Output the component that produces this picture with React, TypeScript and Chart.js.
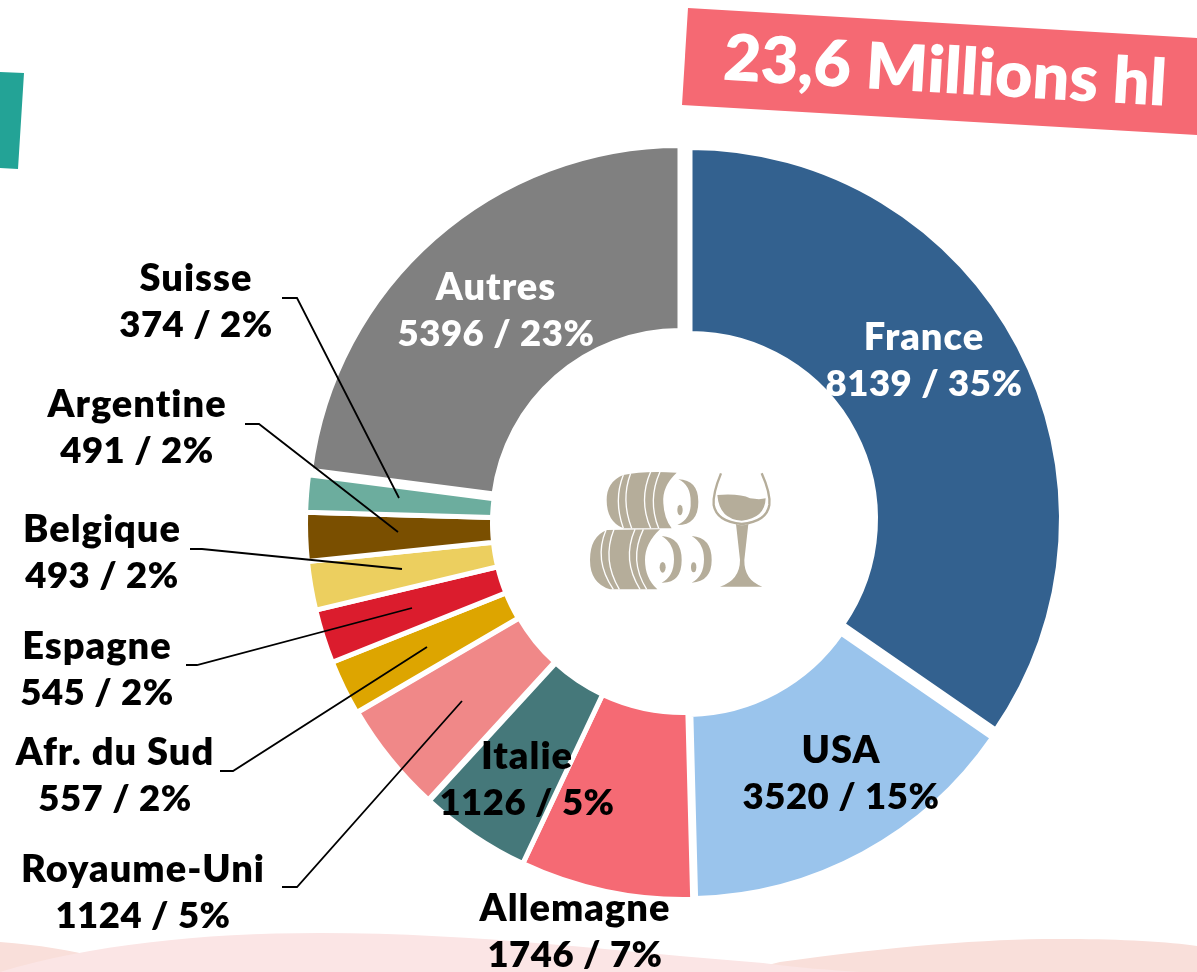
import React, { useEffect, useRef } from "react";
import { Chart, registerables } from "chart.js";

Chart.register(...registerables);

const categories = ["France", "USA", "Allemagne", "Italie", "Royaume-Uni", "Afr. du Sud", "Espagne", "Belgique", "Argentine", "Suisse", "Autres"];
const volumes = [8139, 3520, 1746, 1126, 1124, 557, 545, 493, 491, 374, 5396];
const shares = [35, 15, 7, 5, 5, 2, 2, 2, 2, 2, 23];
const sliceColors = ["#33618F", "#9AC4EC", "#F56A74", "#45787A", "#F08888", "#DDA500", "#DB1C2D", "#ECCF5F", "#7A4F00", "#6CAD9E", "#808080"];
const nudgeX = [9, 5, 2, 2, 1, 0, 0, 0, 0, 0, -1];
const nudgeY = [-4, 3, 1, 1, 0, 0, 0, 0, 0, 0, -5];
const outerTrim = [4, 3, 0, 0, 0, 0, 0, 0, 0, 0, 3];
const innerTrim = [3, 0, 0, 0, 0, 0, 0, 0, 0, 0, 1];
const labelX = [924, 841, 575, 527, 143, 115, 97, 102, 137, 196, 496];
const labelY = [338, 751, 909, 757, 870, 753, 647, 530, 405, 279, 288];
const labelColors = ["#FFFFFF", "#000000", "#000000", "#000000", "#000000", "#000000", "#000000", "#000000", "#000000", "#000000", "#FFFFFF"];
const leaders: (number[][] | null)[] = [
  null, null, null, null,
  [[282, 887], [297, 887], [462, 701]],
  [[220, 771], [233, 771], [427, 647]],
  [[186, 665], [197, 665], [412, 608]],
  [[190, 549], [202, 549], [402, 569]],
  [[245, 424], [259, 424], [398, 532]],
  [[282, 298], [297, 298], [399, 498]],
  null,
];
const bannerText = "23,6 Millions hl";
const FONT = "Lato, sans-serif";

function drawBackground(ctx: CanvasRenderingContext2D) {
  ctx.save();
  ctx.fillStyle = "#F9DFDA";
  ctx.beginPath();
  ctx.moveTo(0, 942);
  ctx.bezierCurveTo(40, 945, 70, 950, 100, 958);
  ctx.lineTo(740, 972);
  ctx.lineTo(780, 962);
  ctx.bezierCurveTo(900, 945, 1000, 938, 1070, 939);
  ctx.bezierCurveTo(1120, 939, 1170, 942, 1197, 946);
  ctx.lineTo(1197, 972);
  ctx.lineTo(0, 972);
  ctx.closePath();
  ctx.fill();
  ctx.fillStyle = "#FBE5E5";
  ctx.beginPath();
  ctx.moveTo(0, 972);
  ctx.bezierCurveTo(90, 945, 200, 933, 320, 933);
  ctx.bezierCurveTo(480, 933, 620, 952, 763, 963);
  ctx.bezierCurveTo(800, 968, 830, 970, 860, 972);
  ctx.closePath();
  ctx.fill();
  ctx.fillStyle = "#23A396";
  ctx.beginPath();
  ctx.moveTo(0, 72);
  ctx.lineTo(24, 73);
  ctx.lineTo(18, 169);
  ctx.lineTo(0, 168);
  ctx.closePath();
  ctx.fill();
  ctx.fillStyle = "#F56973";
  ctx.beginPath();
  ctx.moveTo(688, 8);
  ctx.lineTo(1197, 38);
  ctx.lineTo(1197, 135);
  ctx.lineTo(682, 105);
  ctx.closePath();
  ctx.fill();
  ctx.restore();
}

function drawIcon(ctx: CanvasRenderingContext2D) {
  ctx.save();
  ctx.translate(560, 450);
  ctx.scale(1 / 3, 1 / 3);
  const c = "#B5AD9A";
  ctx.fillStyle = c;
  const fill = (d: string) => ctx.fill(new Path2D(d));
  fill("M190,75 Q250,62 350,68 Q305,110 310,160 Q312,205 335,235 L190,235 Q140,215 140,150 Q140,95 190,75 Z");
  fill("M140,240 L300,238 Q255,280 255,330 Q255,385 292,418 L150,418 Q90,400 90,330 Q90,260 140,240 Z");
  fill("M355,88 Q415,90 415,155 Q415,225 352,225 Q395,205 392,155 Q392,105 355,88 Z");
  fill("M305,258 Q365,262 365,330 Q365,400 305,398 Q342,380 342,328 Q342,280 305,258 Z");
  fill("M395,258 Q455,262 455,330 Q455,395 395,398 Q432,380 432,328 Q432,280 395,258 Z");
  [[360, 180, 8, 16], [308, 352, 9, 16], [401, 352, 8, 15]].forEach(([x, y, rx, ry]) => {
    ctx.beginPath();
    ctx.ellipse(x, y, rx, ry, 0, 0, Math.PI * 2);
    ctx.fill();
  });
  ctx.strokeStyle = "#FFFFFF";
  ctx.lineWidth = 4;
  ["M190,75 Q160,150 190,235", "M212,70 Q182,150 215,235", "M272,65 Q235,150 272,235", "M300,65 Q262,150 296,235",
   "M138,240 Q100,330 160,418", "M162,238 Q125,330 178,418", "M225,238 Q185,330 240,418", "M250,238 Q205,330 260,418"].forEach((d) => ctx.stroke(new Path2D(d)));
  ctx.strokeStyle = c;
  ctx.lineWidth = 7;
  ctx.stroke(new Path2D("M483,70 Q458,130 461,165 Q470,215 545,222 Q620,215 628,165 Q632,130 605,70"));
  fill("M472,135 Q540,130 570,145 Q600,150 617,145 Q615,205 545,212 Q478,208 472,135 Z");
  fill("M528,222 Q545,230 565,222 L553,330 Q552,390 607,410 L480,410 Q540,390 540,330 Z");
  ctx.restore();
}

function drawLabels(ctx: CanvasRenderingContext2D) {
  ctx.save();
  ctx.strokeStyle = "#000000";
  ctx.lineWidth = 1.8;
  leaders.forEach((pts) => {
    if (!pts) return;
    ctx.beginPath();
    pts.forEach((p, i) => (i ? ctx.lineTo(p[0], p[1]) : ctx.moveTo(p[0], p[1])));
    ctx.stroke();
  });
  ctx.textAlign = "center";
  ctx.textBaseline = "middle";
  categories.forEach((name, i) => {
    ctx.fillStyle = labelColors[i];
    ctx.font = `800 38px ${FONT}`;
    (ctx as any).letterSpacing = "1px";
    ctx.fillText(name, labelX[i], labelY[i]);
    ctx.font = `800 36.5px ${FONT}`;
    (ctx as any).letterSpacing = "0.5px";
    ctx.fillText(`${volumes[i]} / ${shares[i]}%`, labelX[i], labelY[i] + 46);
  });
  (ctx as any).letterSpacing = "0px";
  ctx.translate(945, 72);
  ctx.rotate((3.35 * Math.PI) / 180);
  ctx.fillStyle = "#FFFFFF";
  ctx.font = `800 64.5px ${FONT}`;
  ctx.fillText(bannerText, 0, 0);
  ctx.restore();
}

const decorations = {
  id: "decorations",
  beforeDraw(chart: any) {
    drawBackground(chart.ctx);
  },
  afterDatasetsUpdate(chart: any) {
    chart.getDatasetMeta(0).data.forEach((arc: any, i: number) => {
      arc.x += nudgeX[i];
      arc.y += nudgeY[i];
      arc.outerRadius -= outerTrim[i];
      arc.innerRadius -= innerTrim[i];
    });
  },
  afterDraw(chart: any) {
    drawIcon(chart.ctx);
    drawLabels(chart.ctx);
  },
};

export default function App() {
  const ref = useRef<HTMLCanvasElement>(null);
  useEffect(() => {
    const chart = new Chart(ref.current!, {
      type: "doughnut",
      data: {
        labels: categories,
        datasets: [{ data: volumes, backgroundColor: sliceColors, borderColor: "#FFFFFF", borderWidth: 5, hoverOffset: 0 }],
      },
      options: {
        responsive: false,
        animation: false,
        cutout: "50.2%",
        layout: { padding: { left: 303, top: 145, right: 138, bottom: 71 } },
        plugins: { legend: { display: false }, tooltip: { enabled: false } },
      },
      plugins: [decorations],
    } as any);
    return () => chart.destroy();
  }, []);
  return (
    <div style={{ position: "absolute", left: 0, top: 0, width: 1197, height: 972, overflow: "hidden", background: "#fff" }}>
      <canvas ref={ref} width={1197} height={972} style={{ display: "block" }} />
    </div>
  );
}
